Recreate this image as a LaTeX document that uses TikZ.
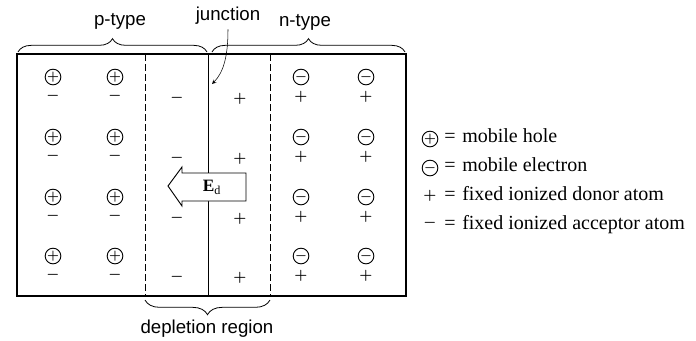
\documentclass[tikz,border=0pt]{standalone}
\usepackage{fontspec}
\setmainfont{Liberation Serif}
\setsansfont{Liberation Sans}
\usetikzlibrary{decorations.pathreplacing}

\tikzset{
  hole/.style={circle,draw,line width=.7pt,minimum size=10pt,inner sep=0pt,font=\fontsize{10}{10}\selectfont\boldmath},
  ion/.style={inner sep=0pt,font=\fontsize{11}{11}\selectfont\boldmath},
  lbl/.style={font=\sffamily\fontsize{14}{16}\selectfont},
  key/.style={anchor=west,inner sep=0pt,text height=1.5ex,text depth=.25ex,font=\fontsize{15}{18}\selectfont}
}

\begin{document}
\begin{tikzpicture}[x=0.75pt,y=0.75pt,>=stealth]
\useasboundingbox (0,0) rectangle (696,-340);

% crystal and regions
\draw[line width=1.1pt] (17,-54) rectangle (406,-296);
\draw[dash pattern=on 5pt off 2.5pt] (145,-54)--(145,-296);
\draw[dash pattern=on 5pt off 2.5pt] (270,-54)--(270,-296);
\draw[line width=.6pt] (208,-54)--(208,-296);

\foreach \r/\y in {1/77,2/137,3/197,4/256}{
  \foreach \c/\x in {1/53,2/115}{
    \node[hole] (h\r\c) at (\x,-\y) {$+$};
    \node[ion] (a\r\c) at (\x,-\y-19) {$-$};
  }
  \foreach \c/\x in {1/301,2/366}{
    \node[hole] (e\r\c) at (\x,-\y) {$-$};
    \node[ion] (d\r\c) at (\x,-\y-20) {$+$};
  }
  \node[ion] (da\r) at (177,-\y-21) {$-$};
  \node[ion] (dd\r) at (240,-\y-22) {$+$};
}

% built-in field
\draw[line width=.7pt,fill=white] (168,-186)--(182,-167)--(182,-173)--(246,-173)--(246,-201)
  --(182,-201)--(182,-206)--cycle;
\node[font=\fontsize{13}{13}\selectfont] (Ed) at (212,-187) {$\mathbf{E}_\mathrm{d}$};

% braces and labels
\draw[line width=.6pt,decorate,decoration={brace,amplitude=10pt}] (18,-52)--(207,-52);
\draw[line width=.6pt,decorate,decoration={brace,amplitude=10pt}] (212,-52)--(405,-52);
\draw[line width=.6pt,decorate,decoration={brace,amplitude=11pt,mirror}] (145,-300)--(270,-300);

\node[lbl] (ptype) at (120,-21) {p-type};
\node[lbl] (ntype) at (305,-22) {n-type};
\node[lbl] (junc) at (228,-16) {junction};
\node[lbl] (depl) at (207,-329) {depletion region};

\coordinate (jtip) at (212,-84);
\draw[->] (junc.south) .. controls (228,-55) and (224,-72) .. (jtip);

% legend
\node[hole] (kh) at (430,-139) {$+$};
\node[hole] (ke) at (430,-168) {$-$};
\node[ion] (kd) at (430,-196) {$+$};
\node[ion] (ka) at (430,-223) {$-$};
\foreach \k/\y/\t in {kh/139/mobile hole,ke/168/mobile electron,
  kd/197/fixed ionized donor atom,ka/226/fixed ionized acceptor atom}{
  \node[key] (\k eq) at (444,-\y) {=};
  \node[key] (\k t) at (462,-\y) {\t};
}
\end{tikzpicture}
\end{document}
